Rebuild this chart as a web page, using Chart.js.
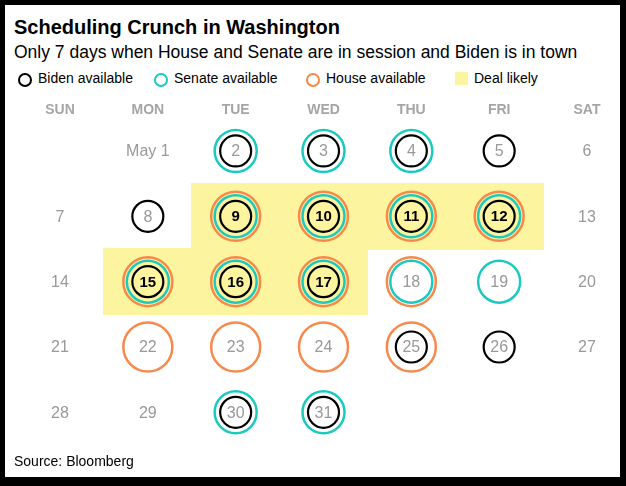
<!DOCTYPE html>
<html>
<head>
<meta charset="utf-8">
<title>Scheduling Crunch in Washington</title>
<script src="https://cdn.jsdelivr.net/npm/chart.js@4.4.0/dist/chart.umd.min.js"></script>
<style>
  html, body { margin: 0; padding: 0; width: 626px; height: 486px; overflow: hidden; background: #000; }
  #frame { position: absolute; left: 5px; top: 5px; width: 615px; height: 472px; background: #fff; }
  #chartBox { position: absolute; left: 0; top: 0; width: 626px; height: 486px; }
  .txt { position: absolute; font-family: "Liberation Sans", Arial, sans-serif; white-space: nowrap; color: #000; }
  #title { left: 14px; top: 17px; font-size: 20px; line-height: 20px; font-weight: bold; }
  #subtitle { left: 14px; top: 44px; font-size: 17.5px; line-height: 17.5px; }
  .legText { top: 71px; font-size: 14px; line-height: 14px; }
  .legRing { position: absolute; top: 73px; width: 14px; height: 14px; box-sizing: border-box; border: 2.5px solid #000; border-radius: 50%; }
  .legBox { position: absolute; top: 72px; width: 13px; height: 13px; }
  #source { left: 14px; top: 454px; font-size: 14px; line-height: 14px; }
</style>
</head>
<body>
<div id="frame"></div>
<div class="txt" id="title">Scheduling Crunch in Washington</div>
<div class="txt" id="subtitle">Only 7 days when House and Senate are in session and Biden is in town</div>

<span class="legRing" style="left:18px;border-color:#000"></span>
<span class="txt legText" style="left:38px">Biden available</span>
<span class="legRing" style="left:154px;border-color:#1dc9bf"></span>
<span class="txt legText" style="left:174px">Senate available</span>
<span class="legRing" style="left:306px;border-color:#f68a4d"></span>
<span class="txt legText" style="left:326px">House available</span>
<span class="legBox" style="left:455px;background:#fdf4a0"></span>
<span class="txt legText" style="left:474px">Deal likely</span>

<div id="chartBox"><canvas id="calendar"></canvas></div>
<div class="txt" id="source">Source: Bloomberg</div>

<script>
'use strict';

// May 2023: starts on a Monday, 31 days
const weekdays = ['SUN', 'MON', 'TUE', 'WED', 'THU', 'FRI', 'SAT'];
const firstWeekday = 1;
const monthLength = 31;

const bidenDays = [2, 3, 4, 5, 8, 9, 10, 11, 12, 15, 16, 17, 25, 26, 30, 31];
const senateDays = [2, 3, 4, 9, 10, 11, 12, 15, 16, 17, 18, 19, 30, 31];
const houseDays = [9, 10, 11, 12, 15, 16, 17, 18, 22, 23, 24, 25];
const dealDays = [9, 10, 11, 12, 15, 16, 17];

const bidenColor = '#000000';
const senateColor = '#1dc9bf';
const houseColor = '#f68a4d';
const dealColor = '#fdf4a0';

let allDays = [];
for (let d = 1; d <= monthLength; d++) {
  allDays.push(d);
}

// weekday column / week row of a date
function cellOf(day) {
  let i = day - 1 + firstWeekday;
  return { x: i % 7, y: Math.floor(i / 7), day: day };
}

// yellow block the size of one calendar cell
let cellImg = null;
let cellKey = '';
function dealCell(ctx) {
  let xs = ctx.chart.scales.x;
  let ys = ctx.chart.scales.y;
  let w = Math.ceil(Math.abs(xs.getPixelForValue(1) - xs.getPixelForValue(0))) + 1;
  let h = Math.ceil(Math.abs(ys.getPixelForValue(1) - ys.getPixelForValue(0))) + 1;
  let key = w + 'x' + h;
  if (key !== cellKey) {
    cellImg = document.createElement('canvas');
    cellImg.width = w;
    cellImg.height = h;
    let c = cellImg.getContext('2d');
    c.fillStyle = dealColor;
    c.fillRect(0, 0, w, h);
    cellKey = key;
  }
  return cellImg;
}

function ringSet(label, days, color, radius, width) {
  return {
    label: label,
    data: days.map(cellOf),
    pointStyle: 'circle',
    pointRadius: radius,
    pointBorderWidth: width,
    pointBorderColor: color,
    pointBackgroundColor: 'rgba(0,0,0,0)',
    showLine: false,
    clip: false
  };
}

const dayLabels = {
  id: 'dayLabels',
  afterDatasetsDraw(chart) {
    let ctx = chart.ctx;
    let x = chart.scales.x;
    let y = chart.scales.y;
    ctx.save();
    ctx.textAlign = 'center';
    ctx.textBaseline = 'middle';
    allDays.forEach(function (d) {
      let c = cellOf(d);
      let deal = dealDays.includes(d);
      ctx.font = deal ? 'bold 15px "Liberation Sans", Arial, sans-serif' : '16px "Liberation Sans", Arial, sans-serif';
      ctx.fillStyle = deal ? '#000' : '#999';
      ctx.fillText(d === 1 ? 'May 1' : String(d), x.getPixelForValue(c.x), y.getPixelForValue(c.y) + 1);
    });
    ctx.restore();
  }
};

Chart.defaults.font.family = '"Liberation Sans", Arial, sans-serif';

new Chart(document.getElementById('calendar'), {
  type: 'scatter',
  data: {
    datasets: [
      ringSet('Biden available', bidenDays, bidenColor, 15.5, 2.2),
      ringSet('Senate available', senateDays, senateColor, 21, 2.5),
      ringSet('House available', houseDays, houseColor, 24.5, 2.5),
      {
        label: 'Deal likely',
        data: dealDays.map(cellOf),
        pointStyle: dealCell,
        pointRadius: 1,
        showLine: false,
        clip: false
      }
    ]
  },
  options: {
    responsive: true,
    maintainAspectRatio: false,
    animation: false,
    events: [],
    layout: { padding: { left: 60, right: 39, top: 101.5, bottom: 41 } },
    scales: {
      x: {
        type: 'linear',
        position: 'top',
        min: 0,
        max: 6,
        grid: { display: false, drawTicks: false },
        border: { display: false },
        ticks: {
          stepSize: 1,
          autoSkip: false,
          maxRotation: 0,
          padding: 0,
          color: '#a5a5a5',
          font: { size: 14, weight: 'bold' },
          callback: function (v) { return weekdays[v]; }
        }
      },
      y: {
        type: 'linear',
        min: -0.5,
        max: 4.5,
        reverse: true,
        display: false
      }
    },
    plugins: {
      legend: { display: false },
      tooltip: { enabled: false }
    }
  },
  plugins: [dayLabels]
});
</script>
</body>
</html>
